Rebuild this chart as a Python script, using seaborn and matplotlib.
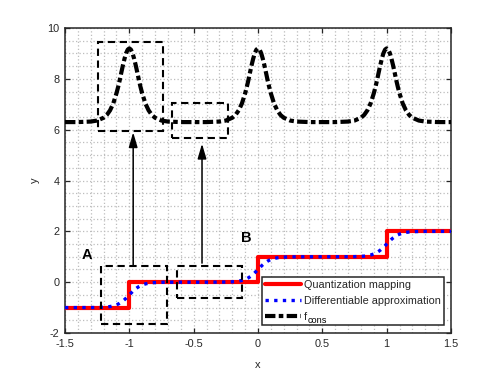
import matplotlib
matplotlib.use('Agg')
import numpy as np
import pandas as pd
import matplotlib.pyplot as plt
import seaborn as sns
from matplotlib.patches import Rectangle
from matplotlib.ticker import MultipleLocator

# ---------------- data ----------------
quant_x = [-1.5, -1.0, -1.0, 0.0, 0.0, 1.0, 1.0, 1.5]
quant_y = [-1.0, -1.0, 0.0, 0.0, 1.0, 1.0, 2.0, 2.0]

approx_x = [-1.5,
            -1.4, -1.3, -1.25, -1.2, -1.175, -1.15, -1.125, -1.1, -1.0875, -1.075, -1.0625, -1.05, -1.0375, -1.025, -1.0125,
            -1.0, -0.9875, -0.975, -0.9625, -0.95, -0.9375, -0.925, -0.9125, -0.9, -0.875, -0.85, -0.825, -0.8, -0.75, -0.7, -0.6,
            -0.5,
            -0.4, -0.3, -0.25, -0.2, -0.175, -0.15, -0.125, -0.1, -0.0875, -0.075, -0.0625, -0.05, -0.0375, -0.025, -0.0125,
            0.0, 0.0125, 0.025, 0.0375, 0.05, 0.0625, 0.075, 0.0875, 0.1, 0.125, 0.15, 0.175, 0.2, 0.25, 0.3, 0.4,
            0.5,
            0.6, 0.7, 0.75, 0.8, 0.825, 0.85, 0.875, 0.9, 0.9125, 0.925, 0.9375, 0.95, 0.9625, 0.975, 0.9875,
            1.0, 1.0125, 1.025, 1.0375, 1.05, 1.0625, 1.075, 1.0875, 1.1, 1.125, 1.15, 1.175, 1.2, 1.25, 1.3, 1.4,
            1.5]
approx_y = [-1.0,
            -1.0, -0.998, -0.995, -0.985, -0.975, -0.959, -0.932, -0.891, -0.863, -0.829, -0.788, -0.741, -0.687, -0.628, -0.565,
            -0.5, -0.435, -0.372, -0.313, -0.259, -0.212, -0.171, -0.137, -0.109, -0.068, -0.041, -0.025, -0.015, -0.005, -0.002, 0.0,
            0.0,
            0.0, 0.002, 0.005, 0.015, 0.025, 0.041, 0.068, 0.109, 0.137, 0.171, 0.212, 0.259, 0.313, 0.372, 0.435,
            0.5, 0.565, 0.628, 0.687, 0.741, 0.788, 0.829, 0.863, 0.891, 0.932, 0.959, 0.975, 0.985, 0.995, 0.998, 1.0,
            1.0,
            1.0, 1.002, 1.005, 1.015, 1.025, 1.041, 1.068, 1.109, 1.137, 1.171, 1.212, 1.259, 1.313, 1.372, 1.435,
            1.5, 1.565, 1.628, 1.687, 1.741, 1.788, 1.829, 1.863, 1.891, 1.932, 1.959, 1.975, 1.985, 1.995, 1.998, 2.0,
            2.0]

cons_x = approx_x
cons_y = [6.30,
          6.30, 6.32, 6.36, 6.47, 6.58, 6.76, 7.03, 7.43, 7.67, 7.94, 8.24, 8.53, 8.79, 9.01, 9.15,
          9.20, 9.15, 9.01, 8.79, 8.53, 8.24, 7.94, 7.67, 7.43, 7.03, 6.76, 6.58, 6.47, 6.36, 6.32, 6.30,
          6.30,
          6.30, 6.32, 6.36, 6.47, 6.58, 6.76, 7.03, 7.43, 7.67, 7.94, 8.24, 8.53, 8.79, 9.01, 9.15,
          9.20, 9.15, 9.01, 8.79, 8.53, 8.24, 7.94, 7.67, 7.43, 7.03, 6.76, 6.58, 6.47, 6.36, 6.32, 6.30,
          6.30,
          6.30, 6.32, 6.36, 6.47, 6.58, 6.76, 7.03, 7.43, 7.67, 7.94, 8.24, 8.53, 8.79, 9.01, 9.15,
          9.20, 9.15, 9.01, 8.79, 8.53, 8.24, 7.94, 7.67, 7.43, 7.03, 6.76, 6.58, 6.47, 6.36, 6.32, 6.30,
          6.30]

# dashed boxes: (x0, y0, x1, y1)
boxes = [(-1.24, 5.95, -0.74, 9.45),
         (-0.67, 5.67, -0.23, 7.05),
         (-1.22, -1.65, -0.71, 0.63),
         (-0.63, -0.63, -0.125, 0.63)]
# arrows: (x, y_start, y_end)
arrows = [(-0.97, 0.67, 5.90),
          (-0.435, 0.75, 5.45)]
labels = [("A", -1.33, 1.05), ("B", -0.09, 1.75)]

series_names = ["Quantization mapping", "Differentiable approximation", "f"]
cons_subscript = "cons"

# ---------------- style ----------------
sns.set_style('ticks')
plt.rcParams['font.family'] = ['Liberation Sans', 'DejaVu Sans']

fig = plt.figure(figsize=(4.98, 3.74), dpi=100)
ax = fig.add_axes([0.1305, 0.1096, 0.7751, 0.8154])

df_q = pd.DataFrame({'x': quant_x, 'y': quant_y})
df_a = pd.DataFrame({'x': approx_x, 'y': approx_y})
df_c = pd.DataFrame({'x': cons_x, 'y': cons_y})

sns.lineplot(data=df_q, x='x', y='y', ax=ax, estimator=None, sort=False,
             color='#ff0000', lw=3.0, label=series_names[0], zorder=3)
sns.lineplot(data=df_a, x='x', y='y', ax=ax, estimator=None, sort=False,
             color='#0000ff', lw=2.4, label=series_names[1], zorder=4)
sns.lineplot(data=df_c, x='x', y='y', ax=ax, estimator=None, sort=False,
             color='black', lw=3.0, label=series_names[2], zorder=3)

lines = ax.get_lines()
lines[1].set_dashes((1.0, 1.6))
lines[1].set_dash_capstyle('butt')
lines[2].set_dashes((2.5, 0.8, 1.1, 0.8))
lines[2].set_dash_capstyle('butt')

for (x0, y0, x1, y1) in boxes:
    ax.add_patch(Rectangle((x0, y0), x1 - x0, y1 - y0, fill=False,
                           edgecolor='black', lw=1.5, ls=(0, (3.5, 2.2)),
                           zorder=5))

for (xa, ys, ye) in arrows:
    ax.annotate('', xy=(xa, ye), xytext=(xa, ys),
                arrowprops=dict(arrowstyle='-|>,head_length=0.75,head_width=0.22',
                                color='black', lw=1.1,
                                mutation_scale=12, shrinkA=0, shrinkB=0),
                zorder=6)

for (t, xt, yt) in labels:
    ax.text(xt, yt, t, fontsize=10.5, fontweight='bold', ha='center',
            va='center', color='black', zorder=6)

ax.set_xlim(-1.5, 1.5)
ax.set_ylim(-2, 10)
ax.xaxis.set_minor_locator(MultipleLocator(0.1))
ax.yaxis.set_minor_locator(MultipleLocator(0.5))
ax.set_xticks(np.arange(-1.5, 1.51, 0.5))
ax.set_xticklabels(['-1.5', '-1', '-0.5', '0', '0.5', '1', '1.5'])
ax.set_yticks(np.arange(-2, 10.1, 2))
ax.set_yticklabels(['-2', '0', '2', '4', '6', '8', '10'])

ax.grid(which='both', color='#bdbdbd', lw=0.9, ls=(0, (1, 1.8)), zorder=0)
ax.set_axisbelow(True)

ax.tick_params(which='major', direction='in', length=3.5, width=0.9,
               top=True, right=True, labelsize=7.8, colors='#262626',
               pad=4)
ax.tick_params(which='minor', length=0, top=True, right=True)
for s in ax.spines.values():
    s.set_visible(True)
    s.set_color('#262626')
    s.set_linewidth(1.1)

ax.set_xlabel('x', fontsize=8, color='#262626', labelpad=8)
ax.set_ylabel('y', fontsize=8, color='#262626', labelpad=5)

leg = ax.legend(loc='lower right', bbox_to_anchor=(0.982, 0.026),
                borderaxespad=0, fontsize=7.8, handlelength=3.3,
                handletextpad=0.3, labelspacing=0.55, borderpad=0.3,
                frameon=True, fancybox=False, framealpha=1,
                edgecolor='#262626')
leg.get_frame().set_linewidth(1.1)
leg.set_zorder(10)

# subscript "cons" placed right after the "f" legend entry
fig.canvas.draw()
ftxt = leg.get_texts()[2]
bb = ftxt.get_window_extent()
W, H = fig.canvas.get_width_height()
fig.text((bb.x1 + 0.8) / W, (bb.y0 - 3.5) / H, cons_subscript,
         fontsize=6.6, color='black', ha='left', va='bottom', zorder=11)

fig.savefig('out.png', dpi=100)
